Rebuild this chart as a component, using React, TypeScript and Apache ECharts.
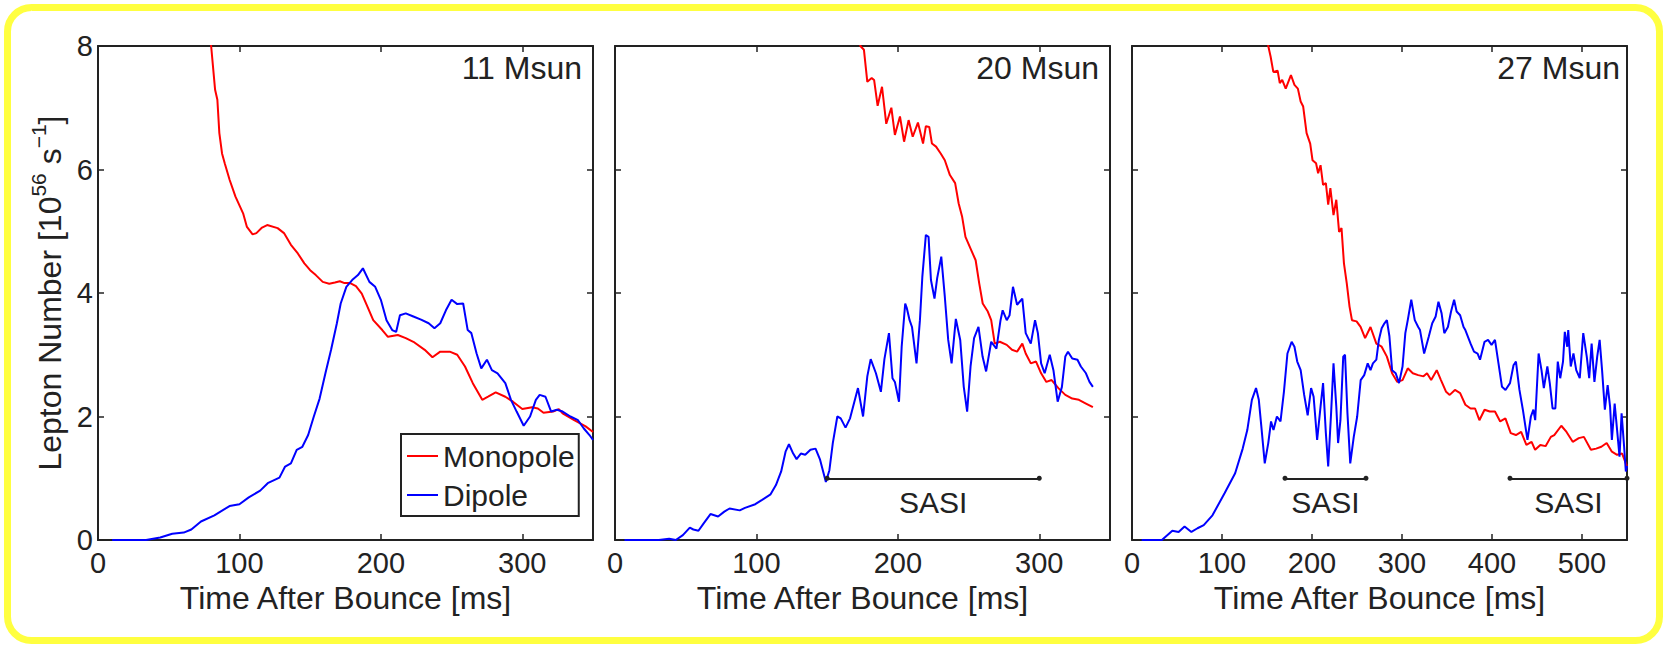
import React, { useEffect, useRef } from "react";
import * as echarts from "echarts";

// ---------- data ----------
const panelTitles = ["11 Msun", "20 Msun", "27 Msun"];
const panelXMax = [350, 350, 550];
const xTickStep = 100;
const yMin = 0;
const yMax = 8;
const yTickStep = 2;
const seriesNames = ["Monopole", "Dipole"];

// [time after bounce (ms), lepton number (1e56 /s)]
const monopole11: number[][] = [
  [78, 8.6], [80, 8.0], [82.8, 7.29], [84.4, 7.13], [85.8, 6.59], [87.7, 6.26], [89.6, 6.1],
  [93.1, 5.83], [97.2, 5.56], [102.6, 5.29], [105.3, 5.07], [109.3, 4.95], [112, 4.97],
  [116, 5.06], [119.6, 5.1], [127, 5.05], [131.5, 4.97], [136.4, 4.78], [141.3, 4.64],
  [145.9, 4.48], [150, 4.37], [154, 4.29], [158.9, 4.18], [163.5, 4.15], [167.5, 4.17],
  [171, 4.19], [174.3, 4.16], [178.3, 4.16], [182.4, 4.11], [186.5, 3.99], [190.5, 3.78],
  [194.6, 3.56], [201, 3.4], [205, 3.29], [212, 3.32], [217.6, 3.27], [223, 3.21], [231, 3.08],
  [236.5, 2.96], [242, 3.05], [248.7, 3.05], [254, 3.0], [259.5, 2.81], [265, 2.54],
  [271.7, 2.27], [275.8, 2.32], [281.2, 2.39], [288, 2.32], [293.4, 2.24], [300, 2.12],
  [307, 2.15], [311, 2.13], [315, 2.06], [321.8, 2.08], [325.8, 2.12], [328.5, 2.05],
  [336.7, 1.94], [344.8, 1.84], [350, 1.75],
];
const dipole11: number[][] = [
  [10, 0], [34, 0], [44, 0.04], [52.5, 0.1], [60.6, 0.12], [66, 0.17], [72.8, 0.3], [82.3, 0.4],
  [93, 0.55], [100, 0.58], [106.6, 0.69], [114.7, 0.8], [120, 0.92], [128.3, 1.01],
  [132.3, 1.19], [136.4, 1.24], [140.5, 1.46], [144.5, 1.51], [148.6, 1.7], [152.6, 2.0],
  [156.7, 2.29], [160.8, 2.7], [164.8, 3.08], [168.9, 3.51], [171.6, 3.83], [175.6, 4.1],
  [179.7, 4.21], [183.8, 4.29], [187.3, 4.4], [191.9, 4.18], [196, 4.1], [200, 3.89],
  [204, 3.56], [208, 3.4], [210.8, 3.37], [213.5, 3.64], [217.6, 3.67], [223, 3.62],
  [228.4, 3.57], [233.8, 3.51], [237.9, 3.43], [242, 3.51], [246, 3.72], [250, 3.89],
  [254, 3.82], [258.2, 3.83], [261.4, 3.4], [264, 3.35], [267.7, 3.02], [271, 2.78],
  [275, 2.92], [278.5, 2.75], [282.5, 2.7], [288, 2.54], [292, 2.27], [296, 2.08], [301, 1.85],
  [305.5, 2.0], [309.6, 2.27], [312.3, 2.35], [316.4, 2.32], [320.4, 2.08], [324.5, 2.11],
  [328.5, 2.08], [334, 2.0], [339.4, 1.94], [343.4, 1.81], [347.5, 1.7], [350, 1.62],
];
const monopole20: number[][] = [
  [172, 8.3], [173.5, 8.0], [176, 7.94], [178.4, 7.42], [181.5, 7.48], [183.2, 7.45],
  [185.7, 7.03], [188.8, 7.34], [191.8, 6.74], [195.4, 7.0], [197.9, 6.56], [201.5, 6.86],
  [204.4, 6.45], [207.6, 6.8], [210.5, 6.53], [214.2, 6.76], [217.8, 6.42], [219.8, 6.7],
  [222.2, 6.69], [224.1, 6.42], [227, 6.37], [230.3, 6.26], [233.2, 6.15], [236.8, 5.91],
  [240.5, 5.78], [243, 5.45], [245.4, 5.24], [247.8, 4.91], [251.4, 4.72], [255, 4.53],
  [257.5, 4.16], [260, 3.83], [263.6, 3.7], [266, 3.56], [268.5, 3.18], [272.1, 3.21],
  [277, 3.16], [280.7, 3.08], [284.3, 3.05], [288, 3.18], [290.4, 3.02], [294, 2.86],
  [297.7, 2.89], [301.3, 2.7], [305, 2.56], [308.7, 2.59], [313.5, 2.46], [318.4, 2.35],
  [323.3, 2.29], [328, 2.27], [333, 2.21], [337.9, 2.15],
];
const dipole20: number[][] = [
  [6.7, 0], [31, 0], [38.3, 0.02], [43, 0], [48, 0.08], [52.9, 0.2], [55.4, 0.17], [59, 0.15],
  [62.7, 0.27], [67.5, 0.42], [72.9, 0.38], [77.3, 0.46], [81, 0.51], [88.2, 0.48],
  [91.9, 0.52], [99.2, 0.58], [104, 0.65], [110, 0.74], [113.8, 0.89], [117.5, 1.11],
  [120.6, 1.43], [123, 1.55], [126, 1.4], [128.4, 1.31], [131.4, 1.4], [134.5, 1.38],
  [138.2, 1.46], [141.8, 1.48], [145, 1.3], [149.1, 0.94], [151.6, 1.13], [154, 1.57],
  [157.2, 2.0], [159.6, 1.97], [163, 1.82], [166.2, 1.97], [171.8, 2.46], [175.4, 2.0],
  [178.4, 2.65], [180.8, 2.93], [184.5, 2.7], [188, 2.4], [190.5, 2.93], [193.7, 3.35],
  [196.2, 2.62], [197.9, 2.56], [200.8, 2.24], [202.7, 3.13], [205.2, 3.83], [206.4, 3.75],
  [208.3, 3.56], [210, 3.45], [213.2, 2.86], [215.6, 3.56], [217.3, 4.26], [219.8, 4.94],
  [221.7, 4.91], [223.4, 4.21], [225.9, 3.91], [227.8, 4.24], [230.7, 4.59], [233.2, 3.94],
  [235.6, 3.24], [238, 2.86], [241, 3.58], [244.1, 3.24], [246.6, 2.48], [249, 2.08],
  [251.4, 2.81], [253.9, 3.27], [257, 3.45], [259.9, 2.97], [262.4, 2.73], [266, 3.21],
  [269.7, 3.1], [272.6, 3.56], [274.1, 3.72], [277, 3.56], [279, 3.64], [281.4, 4.1],
  [284.3, 3.81], [288, 3.91], [290.4, 3.35], [294, 3.18], [297, 3.56], [299, 3.35],
  [301.3, 2.86], [303.8, 2.7], [307.4, 3.0], [310, 2.75], [313, 2.24], [316, 2.48],
  [318.4, 2.97], [320.3, 3.05], [323.3, 2.94], [327, 2.92], [329.4, 2.81], [333, 2.7],
  [335.5, 2.56], [337.9, 2.48],
];
const monopole27: number[][] = [
  [150, 8.3], [151.4, 8.0], [154, 7.83], [157, 7.58], [161.8, 7.6], [164.2, 7.4], [166.9, 7.45],
  [170.8, 7.31], [176.6, 7.53], [180.5, 7.37], [184.3, 7.31], [187.4, 7.1], [190.2, 7.02],
  [194, 6.59], [198, 6.42], [200.6, 6.15], [204.5, 6.1], [206.8, 5.94], [209.5, 6.07],
  [212.3, 5.75], [215.4, 5.78], [218, 5.43], [220.4, 5.7], [223.9, 5.26], [227, 5.51],
  [230.1, 4.99], [232.8, 5.05], [235.5, 4.48], [238.6, 4.16], [241.7, 3.78], [244.4, 3.56],
  [249.5, 3.54], [254, 3.45], [259, 3.27], [265, 3.45], [271.5, 3.18], [277.4, 3.13],
  [283.2, 2.97], [289, 2.7], [294.8, 2.56], [300.6, 2.59], [306.4, 2.78], [312, 2.7],
  [318, 2.67], [323.9, 2.65], [327.8, 2.7], [332.4, 2.59], [338.6, 2.75], [343.3, 2.59],
  [349, 2.4], [353, 2.35], [358.8, 2.43], [364.6, 2.38], [370.4, 2.19], [376.2, 2.13],
  [381.2, 2.13], [386, 1.94], [391.7, 2.11], [397.5, 2.08], [403.3, 2.08], [409.1, 1.92],
  [414.9, 1.97], [420.8, 1.73], [426.6, 1.7], [432.4, 1.75], [438.2, 1.54], [444, 1.59],
  [447.9, 1.46], [453.7, 1.54], [459.5, 1.52], [465.4, 1.67], [469.2, 1.7], [477, 1.85],
  [482.8, 1.75], [489.7, 1.59], [496.4, 1.65], [502.1, 1.67], [509.9, 1.46], [515.7, 1.48],
  [521.5, 1.51], [527.4, 1.57], [533.2, 1.43], [539, 1.38], [544.6, 1.4], [548.7, 1.24],
  [550, 1.2],
];
const dipole27: number[][] = [
  [10.7, 0], [33.2, 0], [44.8, 0.15], [51.8, 0.13], [58.4, 0.22], [66, 0.13], [72.8, 0.19],
  [79.7, 0.24], [89.4, 0.4], [103, 0.76], [114.6, 1.08], [123, 1.48], [128.1, 1.78],
  [133.2, 2.27], [137.8, 2.46], [140.9, 2.27], [143.7, 1.84], [147.5, 1.24], [151.4, 1.57],
  [154.5, 1.92], [157.2, 1.78], [161, 2.0], [165, 1.92], [168.8, 2.4], [172.7, 3.02],
  [177.4, 3.21], [180.5, 3.13], [183.6, 2.89], [187.4, 2.75], [191.3, 2.35], [195.2, 2.02],
  [199, 2.46], [201.8, 2.32], [205.7, 1.62], [209.5, 2.16], [212.3, 2.54], [215.4, 1.73],
  [218, 1.19], [221.2, 2.05], [223.9, 2.86], [227, 2.16], [229, 1.57], [231.6, 1.94],
  [234.7, 2.97], [236.7, 3.0], [239.4, 2.05], [242.5, 1.24], [246.4, 1.67], [250.2, 2.0],
  [254.1, 2.59], [258, 2.67], [261.9, 2.86], [265, 2.75], [267.7, 2.86], [271.5, 2.92],
  [274.3, 3.24], [277.4, 3.43], [280.5, 3.51], [283.2, 3.56], [286, 3.3], [289, 2.75],
  [293, 2.7], [296.7, 2.54], [300.6, 2.81], [303.7, 3.35], [306.4, 3.56], [310.3, 3.89],
  [314.2, 3.56], [318, 3.45], [320, 3.4], [324.6, 3.02], [329.7, 3.29], [333.6, 3.51],
  [337.4, 3.62], [340.5, 3.86], [344, 3.67], [347, 3.35], [351, 3.45], [354.5, 3.7],
  [357.9, 3.89], [360.7, 3.7], [364.6, 3.64], [368.4, 3.45], [370.4, 3.4], [376.2, 3.18],
  [380, 3.05], [384, 3.02], [386.7, 2.92], [391.7, 3.21], [395.6, 3.24], [399.5, 3.16],
  [403.3, 3.24], [407.2, 2.86], [411.1, 2.48], [415, 2.43], [420, 2.54], [423.9, 2.83],
  [426.6, 2.89], [430.5, 2.43], [434.3, 2.11], [439.4, 1.62], [443.2, 2.0], [446, 2.11],
  [448, 1.94], [451.8, 3.02], [455, 2.75], [457.6, 2.46], [461.5, 2.81], [464.2, 2.54],
  [467.3, 2.13], [470.4, 2.13], [473.1, 2.89], [475.8, 2.62], [478.9, 2.89], [480.9, 3.37],
  [483.6, 3.13], [484.7, 3.4], [487.5, 2.81], [490.5, 3.02], [493.6, 2.75], [497.5, 2.62],
  [501.4, 3.35], [505.3, 2.97], [508, 2.62], [510.7, 3.18], [513.8, 2.56], [516.9, 2.97],
  [519.6, 3.24], [522.3, 2.75], [525.4, 2.11], [528.5, 2.51], [531.2, 2.16], [533.2, 1.62],
  [536.3, 2.21], [539, 1.78], [541.7, 1.35], [544, 2.05], [546.8, 1.51], [548.7, 1.11],
  [550, 1.2],
];

// SASI intervals [start, end] (ms) and the level they are drawn at
const sasi11: number[][] = [];
const sasi20: number[][] = [[150, 300]];
const sasi27: number[][] = [[170, 260], [420, 550]];
const sasiLevel = 1.0;

const monopoleData = [monopole11, monopole20, monopole27];
const dipoleData = [dipole11, dipole20, dipole27];
const sasiData = [sasi11, sasi20, sasi27];

// ---------- styling ----------
const W = 1667;
const H = 647;
const FONT = "'Liberation Sans', Arial, Helvetica, sans-serif";
const INK = "#222222";
const RED = "#ff0000";
const BLUE = "#0000ff";
const gridLefts = [98, 615, 1132];
const gridTop = 46;
const gridW = 495;
const gridH = 494;
const titleRightEdges = [582, 1099, 1620];

function buildOption(): echarts.EChartsCoreOption {
  const grid = gridLefts.map((left) => ({ left, top: gridTop, width: gridW, height: gridH }));

  const axisLine = { show: true, onZero: false, lineStyle: { color: INK, width: 2 } };
  const axisTick = { show: true, inside: true, length: 6, lineStyle: { color: INK, width: 1.5 } };

  const xBottom = panelXMax.map((max, i) => ({
    type: "value",
    gridIndex: i,
    position: "bottom",
    min: 0,
    max,
    interval: xTickStep,
    axisLine,
    axisTick,
    splitLine: { show: false },
    axisLabel: {
      show: true,
      showMaxLabel: false,
      fontSize: 29,
      color: INK,
      fontFamily: FONT,
      margin: 8,
    },
    name: "Time After Bounce [ms]",
    nameLocation: "middle",
    nameGap: 32,
    nameTextStyle: { fontSize: 32, color: INK, fontFamily: FONT },
  }));
  const xTop = panelXMax.map((max, i) => ({
    type: "value",
    gridIndex: i,
    position: "top",
    min: 0,
    max,
    interval: xTickStep,
    axisLine,
    axisTick,
    splitLine: { show: false },
    axisLabel: { show: false },
  }));
  const yLeft = panelXMax.map((_, i) => ({
    type: "value",
    gridIndex: i,
    position: "left",
    min: yMin,
    max: yMax,
    interval: yTickStep,
    axisLine,
    axisTick,
    splitLine: { show: false },
    axisLabel: { show: i === 0, fontSize: 29, color: INK, fontFamily: FONT, margin: 5 },
    name: i === 0 ? "{n|Lepton Number [10}{sup|56}{n| s}{sup|\u22121}{n|]}" : "",
    nameLocation: "middle",
    nameRotate: 90,
    nameGap: 32,
    nameTextStyle: {
      color: INK,
      fontFamily: FONT,
      rich: {
        n: { fontSize: 32, lineHeight: 38, verticalAlign: "bottom", color: INK, fontFamily: FONT },
        sup: { fontSize: 21, lineHeight: 21, verticalAlign: "top", color: INK, fontFamily: FONT },
      },
    },
  }));
  const yRight = panelXMax.map((_, i) => ({
    type: "value",
    gridIndex: i,
    position: "right",
    min: yMin,
    max: yMax,
    interval: yTickStep,
    axisLine,
    axisTick,
    splitLine: { show: false },
    axisLabel: { show: false },
  }));

  const series: any[] = [];
  panelXMax.forEach((_, i) => {
    series.push({
      type: "line",
      name: seriesNames[0],
      xAxisIndex: i,
      yAxisIndex: i,
      data: monopoleData[i],
      showSymbol: false,
      symbol: "none",
      clip: true,
      lineStyle: { color: RED, width: 2 },
      itemStyle: { color: RED },
      z: 2,
    });
    const dip: any = {
      type: "line",
      name: seriesNames[1],
      xAxisIndex: i,
      yAxisIndex: i,
      data: dipoleData[i],
      showSymbol: false,
      symbol: "none",
      clip: true,
      lineStyle: { color: BLUE, width: 2 },
      itemStyle: { color: BLUE },
      z: 3,
    };
    if (sasiData[i].length) {
      dip.markLine = {
        silent: true,
        symbol: ["circle", "circle"],
        symbolSize: 5,
        emphasis: { disabled: true },
        lineStyle: { color: INK, width: 2, type: "solid" },
        itemStyle: { color: INK },
        label: {
          show: true,
          formatter: "SASI",
          position: "insideMiddleBottom",
          distance: 9,
          fontSize: 30,
          color: INK,
          fontFamily: FONT,
        },
        data: sasiData[i].map(([a, b]) => [
          { coord: [a, sasiLevel] },
          { coord: [b, sasiLevel] },
        ]),
      };
    }
    series.push(dip);
  });

  return {
    animation: false,
    backgroundColor: "#ffffff",
    textStyle: { fontFamily: FONT },
    grid,
    xAxis: [...xBottom, ...xTop],
    yAxis: [...yLeft, ...yRight],
    title: panelTitles.map((t, i) => ({
      text: t,
      right: W - titleRightEdges[i],
      top: 52,
      padding: 0,
      textStyle: { fontSize: 32, fontWeight: "normal", color: INK, fontFamily: FONT },
    })),
    legend: {
      show: true,
      orient: "vertical",
      left: 401,
      top: 434,
      data: seriesNames.map((n) => ({ name: n, icon: "rect" })),
      itemWidth: 31,
      itemHeight: 2,
      itemGap: 9,
      padding: [7, 4, 6, 6],
      borderColor: INK,
      borderWidth: 2,
      borderRadius: 0,
      backgroundColor: "#ffffff",
      selectedMode: false,
      textStyle: { fontSize: 30, color: INK, fontFamily: FONT, lineHeight: 30 },
    },
    graphic: [
      {
        type: "rect",
        shape: { x: 7.5, y: 7.5, width: W - 15, height: H - 14, r: 24 },
        style: { fill: "none", stroke: "#ffff40", lineWidth: 7 },
        silent: true,
        z: 100,
      },
    ],
    series,
  };
}

export default function App() {
  const ref = useRef<HTMLDivElement>(null);
  useEffect(() => {
    if (!ref.current) return;
    const chart = echarts.init(ref.current, undefined, { renderer: "svg" });
    chart.setOption(buildOption());
    return () => chart.dispose();
  }, []);
  return (
    <div
      ref={ref}
      style={{ position: "absolute", left: 0, top: 0, width: W, height: H, background: "#fff" }}
    />
  );
}
